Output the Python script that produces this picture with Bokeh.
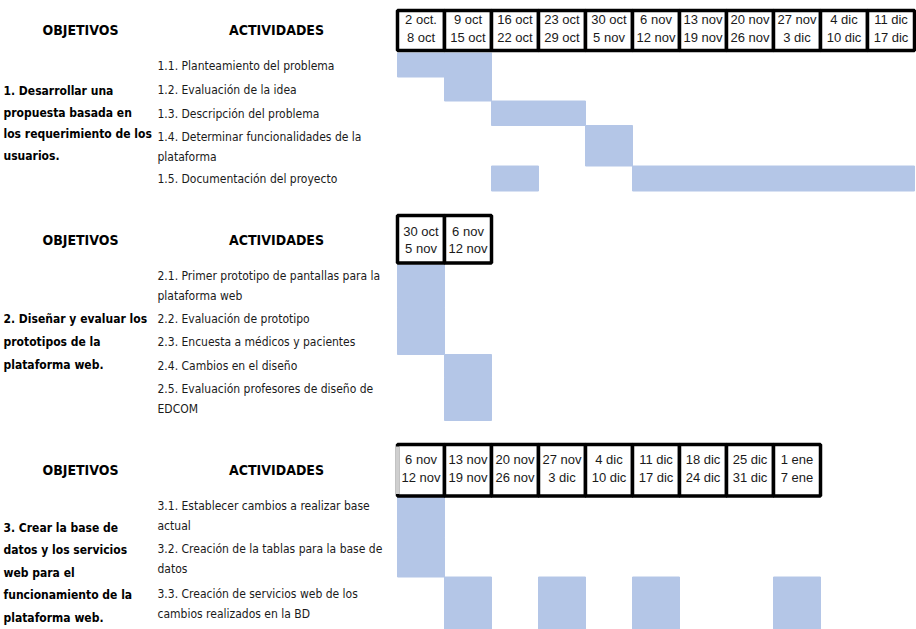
from bokeh.plotting import figure
from bokeh.models import Range1d, ColumnDataSource
from bokeh.core.properties import value
from bokeh.embed import file_html
from bokeh.resources import INLINE

# ---- schedule data -------------------------------------------------------
objetivos = [
    "1. Desarrollar una\npropuesta basada en\nlos requerimiento de los\nusuarios.",
    "2. Diseñar y evaluar los\nprototipos de la\nplataforma web.",
    "3. Crear la base de\ndatos y los servicios\nweb para el\nfuncionamiento de la\nplataforma web.",
]

actividades_1 = [
    "1.1. Planteamiento del problema",
    "1.2. Evaluación de la idea",
    "1.3. Descripción del problema",
    "1.4. Determinar funcionalidades de la\nplataforma",
    "1.5. Documentación del proyecto",
]
actividades_2 = [
    "2.1. Primer prototipo de pantallas para la\nplataforma web",
    "2.2. Evaluación de prototipo",
    "2.3. Encuesta a médicos y pacientes",
    "2.4. Cambios en el diseño",
    "2.5. Evaluación profesores de diseño de\nEDCOM",
]
actividades_3 = [
    "3.1. Establecer cambios a realizar base\nactual",
    "3.2. Creación de la tablas para la base de\ndatos",
    "3.3. Creación de servicios web de los\ncambios realizados en la BD",
]

semana_inicio_1 = ["2 oct.", "9 oct", "16 oct", "23 oct", "30 oct", "6 nov",
                   "13 nov", "20 nov", "27 nov", "4 dic", "11 dic"]
semana_fin_1 = ["8 oct", "15 oct", "22 oct", "29 oct", "5 nov", "12 nov",
                "19 nov", "26 nov", "3 dic", "10 dic", "17 dic"]
semana_inicio_2 = ["30 oct", "6 nov"]
semana_fin_2 = ["5 nov", "12 nov"]
semana_inicio_3 = ["6 nov", "13 nov", "20 nov", "27 nov", "4 dic", "11 dic",
                   "18 dic", "25 dic", "1 ene"]
semana_fin_3 = ["12 nov", "19 nov", "26 nov", "3 dic", "10 dic", "17 dic",
                "24 dic", "31 dic", "7 ene"]

# week indices (columns of each block) in which every activity is worked on
semanas_1 = [[0, 1], [1], [2, 3], [4], [2, 5, 6, 7, 8, 9, 10]]
semanas_2 = [[0], [0], [0], [1], [1]]
semanas_3 = [[0], [0], [1, 3, 5, 8]]

bloques = [
    (objetivos[0], actividades_1, semana_inicio_1, semana_fin_1, semanas_1),
    (objetivos[1], actividades_2, semana_inicio_2, semana_fin_2, semanas_2),
    (objetivos[2], actividades_3, semana_inicio_3, semana_fin_3, semanas_3),
]

# ---- page layout (y grows downward, one unit per pixel) --------------------
W, H = 916, 629
GRID_LEFT = 397     # pixel where the week grid starts
CELL = 47           # pixel width of one week column


def gx(px):
    """Pixel column -> week-axis coordinate."""
    return (px - GRID_LEFT) / CELL


def runs(weeks):
    """Group consecutive week indices into (start, end) spans."""
    out = []
    for w in sorted(weeks):
        if out and out[-1][1] == w:
            out[-1][1] = w + 1
        else:
            out.append([w, w + 1])
    return out


layout = [
    dict(head=(10, 50), head_txt=(19, 37), title_y=29, obj_y=90.5, obj_step=21.5,
         act_y=[65, 89, 113, 136, 178], rows=[52.5, 76.5, 100.5, 125, 165.5, 190.5]),
    dict(head=(215, 262.5), head_txt=(231, 248), title_y=239, obj_y=318, obj_step=23,
         act_y=[275, 318, 341, 365, 388], rows=[264.5, 307, 330, 354, 377, 420]),
    dict(head=(444, 495.5), head_txt=(459, 477), title_y=469, obj_y=527, obj_step=22.5,
         act_y=[505, 548, 593], rows=[496.5, 537, 576.5, 629]),
]

BAR = "#b4c6e7"
TXT = "#1a1a1a"
NARROW = value("'DejaVu Sans Condensed', Roboto, sans-serif")
SANS = value("Liberation Sans")

p = figure(width=W, height=H, x_range=Range1d(gx(0), gx(W)), y_range=Range1d(H, 0),
           x_axis_type=None, y_axis_type=None, output_backend="svg",
           toolbar_location=None, min_border=0)
p.grid.visible = False
p.outline_line_color = None
p.background_fill_color = "white"
p.border_fill_color = "white"

for (obj, acts, w_ini, w_fin, semanas), lay in zip(bloques, layout):
    # task bars
    left, right, top, bottom = [], [], [], []
    for i, weeks in enumerate(semanas):
        for a, b in runs(weeks):
            left.append(a)
            right.append(b)
            top.append(lay["rows"][i])
            bottom.append(lay["rows"][i + 1])
    p.quad(left="left", right="right", top="top", bottom="bottom",
           source=ColumnDataSource(dict(left=left, right=right, top=top, bottom=bottom)),
           fill_color=BAR, line_color=BAR, line_width=1)

    # week header cells
    n = len(w_ini)
    h_top, h_bot = lay["head"]
    p.quad(left=list(range(n)), right=[i + 1 for i in range(n)],
           top=[h_top] * n, bottom=[h_bot] * n,
           fill_color="white", line_color="black", line_width=3.5)
    xs = [i + 0.5 for i in range(n)]
    p.text(x=xs, y=[lay["head_txt"][0]] * n, text=w_ini, text_align="center",
           text_baseline="middle", text_font=SANS, text_font_size="13px", text_color=TXT)
    p.text(x=xs, y=[lay["head_txt"][1]] * n, text=w_fin, text_align="center",
           text_baseline="middle", text_font=SANS, text_font_size="13px", text_color=TXT)

    # column titles
    p.text(x=[gx(80), gx(276)], y=[lay["title_y"]] * 2, text=["OBJETIVOS", "ACTIVIDADES"],
           text_align="center", text_baseline="middle", text_font=NARROW,
           text_font_size="14px", text_font_style="bold", text_color="black")

    # objective (bold, wrapped)
    lines = obj.split("\n")
    p.text(x=[gx(3)] * len(lines),
           y=[lay["obj_y"] + k * lay["obj_step"] for k in range(len(lines))],
           text=lines, text_align="left", text_baseline="middle", text_font=NARROW,
           text_font_size="12px", text_font_style="bold", text_color="black")

    # activity names
    ax, ay, at = [], [], []
    for a, y0 in zip(acts, lay["act_y"]):
        for k, ln in enumerate(a.split("\n")):
            ax.append(gx(157))
            ay.append(y0 + k * 20.5)
            at.append(ln)
    p.text(x=ax, y=ay, text=at, text_align="left", text_baseline="middle",
           text_font=NARROW, text_font_size="12px", text_color=TXT)

# panel 3 first header cell has a light grey left edge
p.segment(x0=[0], y0=[layout[2]["head"][0] + 2], x1=[0], y1=[layout[2]["head"][1] - 2],
          line_color="#cfcfcf", line_width=3.5)

open("out.html", "w").write(file_html(p, INLINE))
